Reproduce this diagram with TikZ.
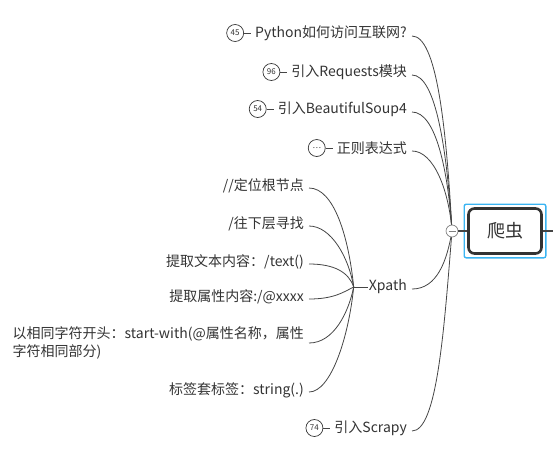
\documentclass[tikz,border=0pt]{standalone}
\usepackage{fontspec}
\setmainfont{Noto Sans CJK SC}
\usetikzlibrary{positioning, calc, backgrounds}
\definecolor{txtgray}{HTML}{333333}
\definecolor{linegray}{HTML}{454545}
\definecolor{selblue}{HTML}{3AB4F2}

\begin{document}
\begin{tikzpicture}[x=1pt, y=-1pt,
        topic/.style={font=\fontsize{14}{18}\selectfont, text=txtgray, inner sep=1pt, align=left},
        badge/.style={circle, draw=txtgray, line width=0.7pt, minimum size=17pt, inner sep=0pt, font=\fontsize{8}{8}\selectfont, text=txtgray},
        conn/.style={draw=linegray, line width=0.8pt},
        rootbox/.style={draw=txtgray, line width=2.6pt, rounded corners=6pt, fill=white, minimum width=73pt, minimum height=45pt, font=\fontsize{18}{20}\selectfont, text=txtgray},
        fold/.style={circle, draw=gray, fill=white, minimum size=12pt, inner sep=0pt, line width=0.7pt}
    ]
        \useasboundingbox (0,0) rectangle (553,472);

        % Root
        \node[rootbox] (root) at (505,231) {爬虫};
        \draw[selblue, line width=1.4pt, rounded corners=2pt] ($(root.north west)+(-3,-3)$) rectangle ($(root.south east)+(3,3)$);
        \coordinate (rout) at (553,231);
        \draw[linegray, line width=2.4pt] (root.east) -- (rout);

        % Fold button
        \node[fold] (rfold) at (452,231) {};
        \draw[gray, line width=1pt] ([xshift=-3.5pt]rfold.center) -- ([xshift=3.5pt]rfold.center);
        \draw[conn, line width=1.2pt] (rfold) -- (root);

        % Main topics
        \node[topic, anchor=east] (python) at (408,33) {Python如何访问互联网?};
        \node[topic, anchor=east] (requests) at (408,72) {引入Requests模块};
        \node[topic, anchor=east] (bsoup) at (408,109) {引入BeautifulSoup4};
        \node[topic, anchor=east] (regex) at (408,148) {正则表达式};
        \node[topic, anchor=east] (xpath) at (408,287) {Xpath};
        \node[topic, anchor=east] (scrapy) at (408,428) {引入Scrapy};

        % Badges
        \node[badge, left=10pt of python] (b45) {45};
        \node[badge, left=10pt of requests] (b96) {96};
        \node[badge, left=10pt of bsoup] (b54) {54};
        \node[badge, left=10pt of regex] (bdots) {…};
        \node[badge, left=10pt of scrapy] (b74) {74};
        \foreach \b/\t in {b45/python, b96/requests, b54/bsoup, bdots/regex, b74/scrapy}
            \draw[conn] (\b) -- ([xshift=-3pt]\t.west);

        % Xpath children
        \coordinate[left=14pt of xpath] (xhub);
        \draw[conn] (xhub) -- (xpath.west);
        \node[topic, anchor=east] (rootloc) at (305,186) {//定位根节点};
        \node[topic, anchor=east] (downfind) at (305,224) {/往下层寻找};
        \node[topic, anchor=east] (gettext) at (305,262) {提取文本内容：/text()};
        \node[topic, anchor=east] (getattr) at (305,297) {提取属性内容:/@xxxx};
        \node[topic, anchor=east] (startw) at (305,343) {以相同字符开头：start-with(@属性名称，属性\\字符相同部分)};
        \node[topic, anchor=east] (nested) at (305,390) {标签套标签：string(.)};

        % Connectors
        \begin{scope}[on background layer]
            \draw[conn] ([shift={(4,3)}]python.east) .. controls +(24,0) and +(-6,-110) .. (rfold.center);
            \draw[conn] ([shift={(4,3)}]requests.east) .. controls +(24,0) and +(-5,-80) .. (rfold.center);
            \draw[conn] ([shift={(4,3)}]bsoup.east) .. controls +(24,0) and +(-4,-60) .. (rfold.center);
            \draw[conn] ([shift={(4,3)}]regex.east) .. controls +(22,0) and +(-3,-40) .. (rfold.center);
            \draw[conn] ([shift={(4,2)}]xpath.east) .. controls +(25,0) and +(-5,30) .. (rfold.center);
            \draw[conn] ([shift={(4,3)}]scrapy.east) .. controls +(25,0) and +(-8,100) .. (rfold.center);

            \draw[conn] ([shift={(4,2)}]rootloc.east) .. controls +(25,0) and +(-5,-50) .. (xhub);
            \draw[conn] ([shift={(4,2)}]downfind.east) .. controls +(22,0) and +(-5,-30) .. (xhub);
            \draw[conn] ([shift={(4,2)}]gettext.east) .. controls +(25,0) and +(-5,-15) .. (xhub);
            \draw[conn] ([shift={(4,2)}]getattr.east) .. controls +(25,0) and +(-10,5) .. (xhub);
            \draw[conn] ([shift={(4,0)}]startw.east) .. controls +(25,0) and +(-5,25) .. (xhub);
            \draw[conn] ([shift={(4,2)}]nested.east) .. controls +(22,0) and +(-5,50) .. (xhub);
        \end{scope}

    \end{tikzpicture}
\end{document}
